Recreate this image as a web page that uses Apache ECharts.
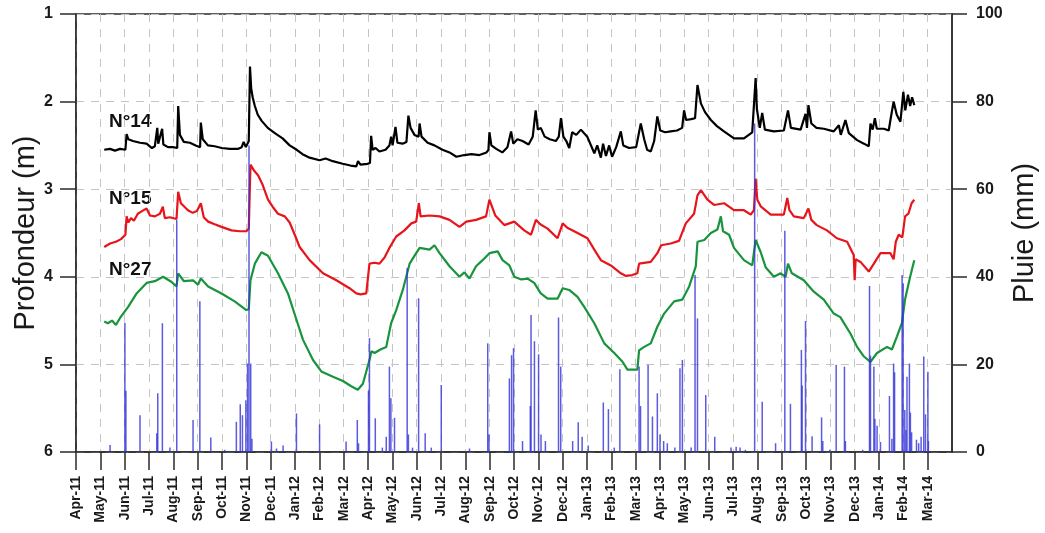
<!DOCTYPE html>
<html><head><meta charset="utf-8">
<script src="https://cdn.jsdelivr.net/npm/echarts@6/dist/echarts.min.js"></script>
<style>html,body{margin:0;padding:0;background:#fff}#c{width:1045px;height:533px}</style>
</head><body><div id="c"></div>
<script>
// x values are in months since 1 April 2011 (0 = Apr-11)
const monthLabels = ['Apr-11','May-11','Jun-11','Jul-11','Aug-11','Sep-11','Oct-11','Nov-11','Dec-11','Jan-12','Feb-12','Mar-12',
  'Apr-12','May-12','Jun-12','Jul-12','Aug-12','Sep-12','Oct-12','Nov-12','Dec-12','Jan-13','Feb-13','Mar-13',
  'Apr-13','May-13','Jun-13','Jul-13','Aug-13','Sep-13','Oct-13','Nov-13','Dec-13','Jan-14','Feb-14','Mar-14'];
const depthTicks = [1,2,3,4,5,6];
const rainTicks = [0,20,40,60,80,100];
const seriesNames = ['N°14','N°15','N°27'];

// N°14 depth (m)
const t14 = [1.16,1.40,1.60,1.81,2.03,2.08,2.15,2.34,2.63,2.90,3.12,3.24,3.34,3.38,3.54,3.59,3.78,3.98,4.16,4.20,4.27,4.43,4.68,4.92,5.10,5.13,5.21,5.42,5.70,5.99,6.32,6.65,6.81,6.89,6.98,7.10,7.15,7.20,7.26,7.35,7.47,7.63,7.88,8.17,8.49,8.78,9.07,9.31,9.60,10.01,10.26,10.55,10.96,11.28,11.52,11.59,11.69,11.98,12.08,12.13,12.19,12.31,12.47,12.72,12.88,12.95,13.01,13.13,13.21,13.42,13.58,13.66,13.75,13.91,14.08,14.12,14.20,14.45,14.73,15.06,15.35,15.63,15.96,16.25,16.58,16.87,16.95,16.99,17.07,17.27,17.52,17.73,17.88,17.97,18.14,18.35,18.60,18.77,18.89,18.98,19.10,19.26,19.47,19.72,19.84,19.93,20.03,20.15,20.27,20.39,20.56,20.75,21.01,21.30,21.42,21.57,21.66,21.78,21.91,22.03,22.20,22.39,22.49,22.73,23.02,23.21,23.35,23.47,23.62,23.76,23.89,24.01,24.21,24.44,24.70,24.91,24.99,25.07,25.28,25.44,25.54,25.68,25.85,26.09,26.34,26.63,27.04,27.45,27.79,27.93,27.98,28.10,28.20,28.31,28.68,29.09,29.26,29.38,29.78,29.98,30.04,30.10,30.22,30.43,30.73,31.14,31.35,31.43,31.62,31.76,32.10,32.38,32.58,32.65,32.74,32.83,32.91,33.20,33.40,33.47,33.60,33.73,33.88,34.00,34.08,34.19,34.28,34.36,34.45];
const d14 = [2.55,2.54,2.56,2.54,2.55,2.37,2.43,2.45,2.47,2.48,2.53,2.51,2.30,2.48,2.31,2.49,2.52,2.52,2.53,2.05,2.38,2.46,2.47,2.50,2.52,2.24,2.43,2.50,2.51,2.53,2.54,2.54,2.52,2.46,2.52,2.45,1.60,1.85,1.95,2.05,2.15,2.22,2.30,2.36,2.42,2.50,2.55,2.60,2.64,2.67,2.65,2.68,2.71,2.73,2.74,2.68,2.72,2.71,2.70,2.39,2.55,2.53,2.57,2.55,2.50,2.40,2.50,2.29,2.47,2.48,2.46,2.16,2.30,2.38,2.40,2.25,2.40,2.47,2.50,2.55,2.58,2.63,2.61,2.60,2.61,2.58,2.55,2.35,2.50,2.54,2.58,2.52,2.34,2.48,2.43,2.45,2.49,2.40,2.10,2.32,2.30,2.40,2.43,2.45,2.40,2.19,2.40,2.45,2.53,2.35,2.38,2.32,2.40,2.59,2.50,2.64,2.48,2.62,2.50,2.63,2.52,2.34,2.50,2.53,2.52,2.25,2.43,2.55,2.57,2.45,2.17,2.33,2.35,2.34,2.33,2.30,2.10,2.21,2.20,2.19,1.81,2.02,2.12,2.21,2.28,2.34,2.42,2.42,2.35,1.73,2.08,2.30,2.13,2.32,2.34,2.33,2.10,2.30,2.32,2.14,2.30,2.04,2.25,2.30,2.31,2.34,2.27,2.38,2.21,2.36,2.44,2.48,2.51,2.25,2.32,2.19,2.31,2.31,2.33,2.21,2.00,2.15,2.23,1.89,2.10,1.92,2.05,1.95,2.04];

// N°15 depth (m)
const t15 = [1.16,1.40,1.64,1.85,2.03,2.08,2.15,2.26,2.38,2.54,2.71,2.90,3.04,3.24,3.45,3.57,3.65,3.86,4.13,4.20,4.31,4.60,4.80,4.97,5.13,5.25,5.43,5.70,5.98,6.39,6.73,7.00,7.10,7.17,7.30,7.48,7.67,7.89,8.08,8.30,8.58,8.78,8.99,9.19,9.60,10.15,10.70,11.24,11.52,11.69,11.93,12.06,12.27,12.47,12.68,12.88,13.16,13.50,13.78,13.98,14.09,14.16,14.53,14.94,15.35,15.76,16.04,16.44,16.85,16.99,17.23,17.60,18.01,18.42,18.70,18.90,19.08,19.38,19.79,20.00,20.19,20.61,21.02,21.30,21.57,21.98,22.39,22.60,22.86,23.07,23.14,23.62,23.89,24.05,24.44,24.78,25.06,25.40,25.54,25.68,25.95,26.22,26.63,27.04,27.45,27.73,27.86,27.93,28.00,28.15,28.55,29.09,29.23,29.32,29.50,29.91,30.10,30.22,30.44,30.86,31.27,31.69,31.96,32.00,32.04,32.24,32.58,32.79,33.06,33.47,33.60,33.69,33.81,33.96,34.07,34.21,34.34,34.45];
const d15 = [3.66,3.62,3.60,3.57,3.52,3.31,3.38,3.33,3.36,3.28,3.25,3.22,3.30,3.31,3.28,3.20,3.33,3.32,3.34,3.03,3.16,3.24,3.27,3.25,3.16,3.32,3.37,3.40,3.43,3.47,3.48,3.48,3.45,2.72,2.78,2.84,2.95,3.12,3.20,3.28,3.31,3.38,3.52,3.66,3.81,3.96,4.04,4.13,4.19,4.20,4.19,3.85,3.84,3.85,3.78,3.67,3.54,3.47,3.39,3.37,3.16,3.31,3.30,3.31,3.35,3.43,3.37,3.35,3.31,3.12,3.30,3.41,3.37,3.47,3.52,3.35,3.40,3.45,3.56,3.39,3.44,3.50,3.56,3.69,3.81,3.87,3.96,3.99,3.98,3.96,3.85,3.83,3.73,3.64,3.62,3.59,3.39,3.28,3.07,3.01,3.12,3.18,3.16,3.24,3.24,3.29,3.24,2.88,3.12,3.20,3.29,3.29,3.10,3.24,3.31,3.33,3.22,3.35,3.41,3.47,3.56,3.60,3.75,4.04,3.80,3.83,3.94,3.85,3.73,3.73,3.80,3.60,3.52,3.55,3.31,3.28,3.16,3.12];

// N°27 depth (m)
const t27 = [1.16,1.31,1.48,1.64,1.81,2.15,2.49,2.90,3.24,3.58,3.93,4.13,4.20,4.43,4.81,5.01,5.13,5.43,5.98,6.52,7.00,7.10,7.17,7.35,7.62,7.89,8.30,8.71,9.06,9.33,9.74,10.08,10.56,10.97,11.31,11.58,11.79,12.06,12.14,12.27,12.51,12.75,12.95,13.16,13.43,13.71,13.98,14.12,14.53,14.73,14.94,15.35,15.76,15.96,16.17,16.44,16.71,16.99,17.33,17.53,17.81,18.01,18.30,18.56,18.83,19.10,19.38,19.79,20.00,20.27,20.61,20.88,21.30,21.71,22.12,22.46,22.66,23.07,23.14,23.35,23.62,23.89,24.17,24.58,24.92,25.20,25.47,25.54,25.82,26.09,26.36,26.50,26.59,26.84,27.04,27.45,27.79,27.93,28.14,28.34,28.68,28.96,29.16,29.26,29.42,29.91,30.32,30.73,31.14,31.41,31.83,32.10,32.38,32.65,32.92,33.33,33.53,33.74,33.94,34.07,34.28,34.45];
const d27 = [4.51,4.53,4.50,4.55,4.47,4.34,4.19,4.07,4.05,4.00,4.06,4.11,3.96,4.05,4.04,4.09,4.02,4.11,4.19,4.28,4.38,4.37,4.04,3.85,3.72,3.76,3.96,4.19,4.49,4.72,4.95,5.08,5.14,5.19,5.25,5.29,5.22,4.95,4.85,4.87,4.83,4.80,4.53,4.38,4.15,3.85,3.73,3.67,3.69,3.64,3.73,3.88,4.00,3.95,4.02,3.88,3.81,3.73,3.71,3.81,3.87,4.00,4.03,4.02,4.07,4.19,4.25,4.25,4.13,4.15,4.23,4.34,4.53,4.76,4.87,4.97,5.06,5.06,4.84,4.80,4.76,4.57,4.42,4.28,4.26,4.11,3.88,3.60,3.58,3.50,3.46,3.31,3.48,3.52,3.67,3.81,3.87,3.58,3.72,3.89,4.00,3.96,4.00,3.85,3.96,4.04,4.17,4.26,4.42,4.46,4.65,4.80,4.91,4.97,4.87,4.80,4.83,4.68,4.53,4.26,4.00,3.81];

// Daily rainfall (mm)
const tRain = [1.40,2.01,2.05,2.63,3.32,3.36,3.55,3.86,4.14,4.81,5.09,5.54,6.11,6.59,6.75,6.84,6.98,7.05,7.11,7.18,7.23,8.03,8.24,8.51,9.06,10.01,11.10,11.56,11.61,12.02,12.06,12.30,12.59,12.75,12.88,12.94,13.09,13.61,13.66,13.83,14.08,14.35,14.60,15.01,16.17,16.92,16.97,17.81,17.90,17.98,18.35,18.67,18.70,18.84,19.01,19.11,19.29,19.83,19.92,20.41,20.64,20.80,21.05,21.67,21.88,22.12,22.35,23.14,23.20,23.51,23.69,23.89,24.00,24.15,24.30,24.61,24.82,24.92,25.28,25.44,25.54,25.88,26.25,26.92,27.13,27.29,27.51,27.89,28.20,28.75,29.13,29.36,29.81,29.84,29.98,30.25,30.64,30.69,30.98,31.24,31.58,31.62,32.33,32.61,32.65,32.79,32.83,32.92,33.06,33.43,33.53,33.60,33.64,33.95,33.99,34.06,34.11,34.15,34.25,34.29,34.34,34.54,34.63,34.73,34.84,34.91,35.01,35.03];
const rain = [1.6,29.5,14,8.4,4.3,13.4,29.4,1.0,53,7.3,34.4,3.3,0.5,6.9,10.9,8.4,11.8,20.2,70,20.2,3,2.4,0.8,1.5,8.8,6.3,2.4,7.3,2,14,26,7.7,1,3.5,19.5,12.3,7.8,42,4,1,35.1,4.3,1,15.3,0.8,24.8,4,16.8,22.1,23.7,2.5,10.5,31.3,25.3,22.3,4,2.5,30.7,19.5,2.5,6.8,3.5,1.5,11.3,9.8,1,18.9,19.5,10.5,19.9,8.1,13.4,4,2.5,2,1,19.1,21,1,40.4,30.5,13,3.5,1,1.2,1,0.5,75,11.5,2,50.5,11,23.3,15.2,29.9,3.6,7.9,2.5,0.5,19.9,19.5,2.5,0.5,37.9,22,19.5,7.6,6,2.3,12.8,3,20.2,18.2,40.4,38.5,9.6,5,17.2,20.2,9,4.5,2.8,2,3.5,21.8,8.6,18.3,2.5];

const pair = (t, v) => t.map((x, i) => [x, v[i]]);
const FONT = 'Liberation Sans, Arial, sans-serif';
const axisLineStyle = { color: '#2b2b2b', width: 1.5 };
const dashed = { color: '#c4c4c4', width: 1, type: [8, 7] };
const monthIdx = monthLabels.map((_, i) => i);

const chart = echarts.init(document.getElementById('c'));
chart.setOption({
  animation: false,
  backgroundColor: '#fff',
  grid: { left: 76, right: 93, top: 14, bottom: 81, show: true, borderColor: '#2b2b2b', borderWidth: 1.5,
    containLabel: false, outerBoundsMode: 'none' },
  xAxis: {
    type: 'value', min: 0, max: 36, interval: 1,
    axisLine: { show: true, onZero: false, lineStyle: axisLineStyle },
    axisTick: { show: true, length: 18, inside: false, lineStyle: axisLineStyle, customValues: monthIdx },
    axisLabel: { customValues: monthIdx, rotate: 90, margin: 24, color: '#1a1a1a', fontFamily: FONT, fontWeight: 'bold', fontSize: 14,
      formatter: v => monthLabels[Math.round(v)] || '' },
    splitLine: { show: true, lineStyle: dashed }
  },
  yAxis: [
    { type: 'value', inverse: true, min: depthTicks[0], max: depthTicks[depthTicks.length - 1], interval: 1, position: 'left',
      name: 'Profondeur (m)', nameLocation: 'middle', nameRotate: 90, nameGap: 36, nameMoveOverlap: false,
      nameTextStyle: { fontFamily: FONT, fontSize: 29, color: '#1a1a1a' },
      axisLine: { show: true, lineStyle: axisLineStyle },
      axisTick: { show: true, length: 16, lineStyle: axisLineStyle },
      axisLabel: { margin: 23, color: '#1a1a1a', fontFamily: FONT, fontWeight: 'bold', fontSize: 16 },
      splitLine: { show: true, lineStyle: dashed } },
    { type: 'value', min: rainTicks[0], max: rainTicks[rainTicks.length - 1], interval: 20, position: 'right',
      name: 'Pluie (mm)', nameLocation: 'middle', nameRotate: 90, nameGap: 58, nameMoveOverlap: false,
      nameTextStyle: { fontFamily: FONT, fontSize: 29, color: '#1a1a1a' },
      axisLine: { show: true, lineStyle: axisLineStyle },
      axisTick: { show: true, length: 15, lineStyle: axisLineStyle },
      axisLabel: { margin: 24, color: '#1a1a1a', fontFamily: FONT, fontWeight: 'bold', fontSize: 16 },
      splitLine: { show: false } }
  ],
  graphic: [
    { type: 'text', left: 109, top: 112, style: { text: seriesNames[0], font: 'bold 19px ' + FONT, fill: '#111' } },
    { type: 'text', left: 109, top: 189, style: { text: seriesNames[1], font: 'bold 19px ' + FONT, fill: '#111' } },
    { type: 'text', left: 109, top: 260, style: { text: seriesNames[2], font: 'bold 19px ' + FONT, fill: '#111' } }
  ],
  series: [
    { name: seriesNames[0], type: 'line', yAxisIndex: 0, data: pair(t14, d14), showSymbol: false, lineStyle: { color: '#000', width: 2.2 }, z: 3 },
    { name: seriesNames[1], type: 'line', yAxisIndex: 0, data: pair(t15, d15), showSymbol: false, lineStyle: { color: '#e8141b', width: 2.2 }, z: 3 },
    { name: seriesNames[2], type: 'line', yAxisIndex: 0, data: pair(t27, d27), showSymbol: false, lineStyle: { color: '#17943c', width: 2.2 }, z: 3 },
    { name: 'Pluie', type: 'bar', yAxisIndex: 1, data: pair(tRain, rain), barWidth: 1.5, itemStyle: { color: 'rgba(50,50,215,0.8)' }, z: 4 }
  ]
});
</script></body></html>
